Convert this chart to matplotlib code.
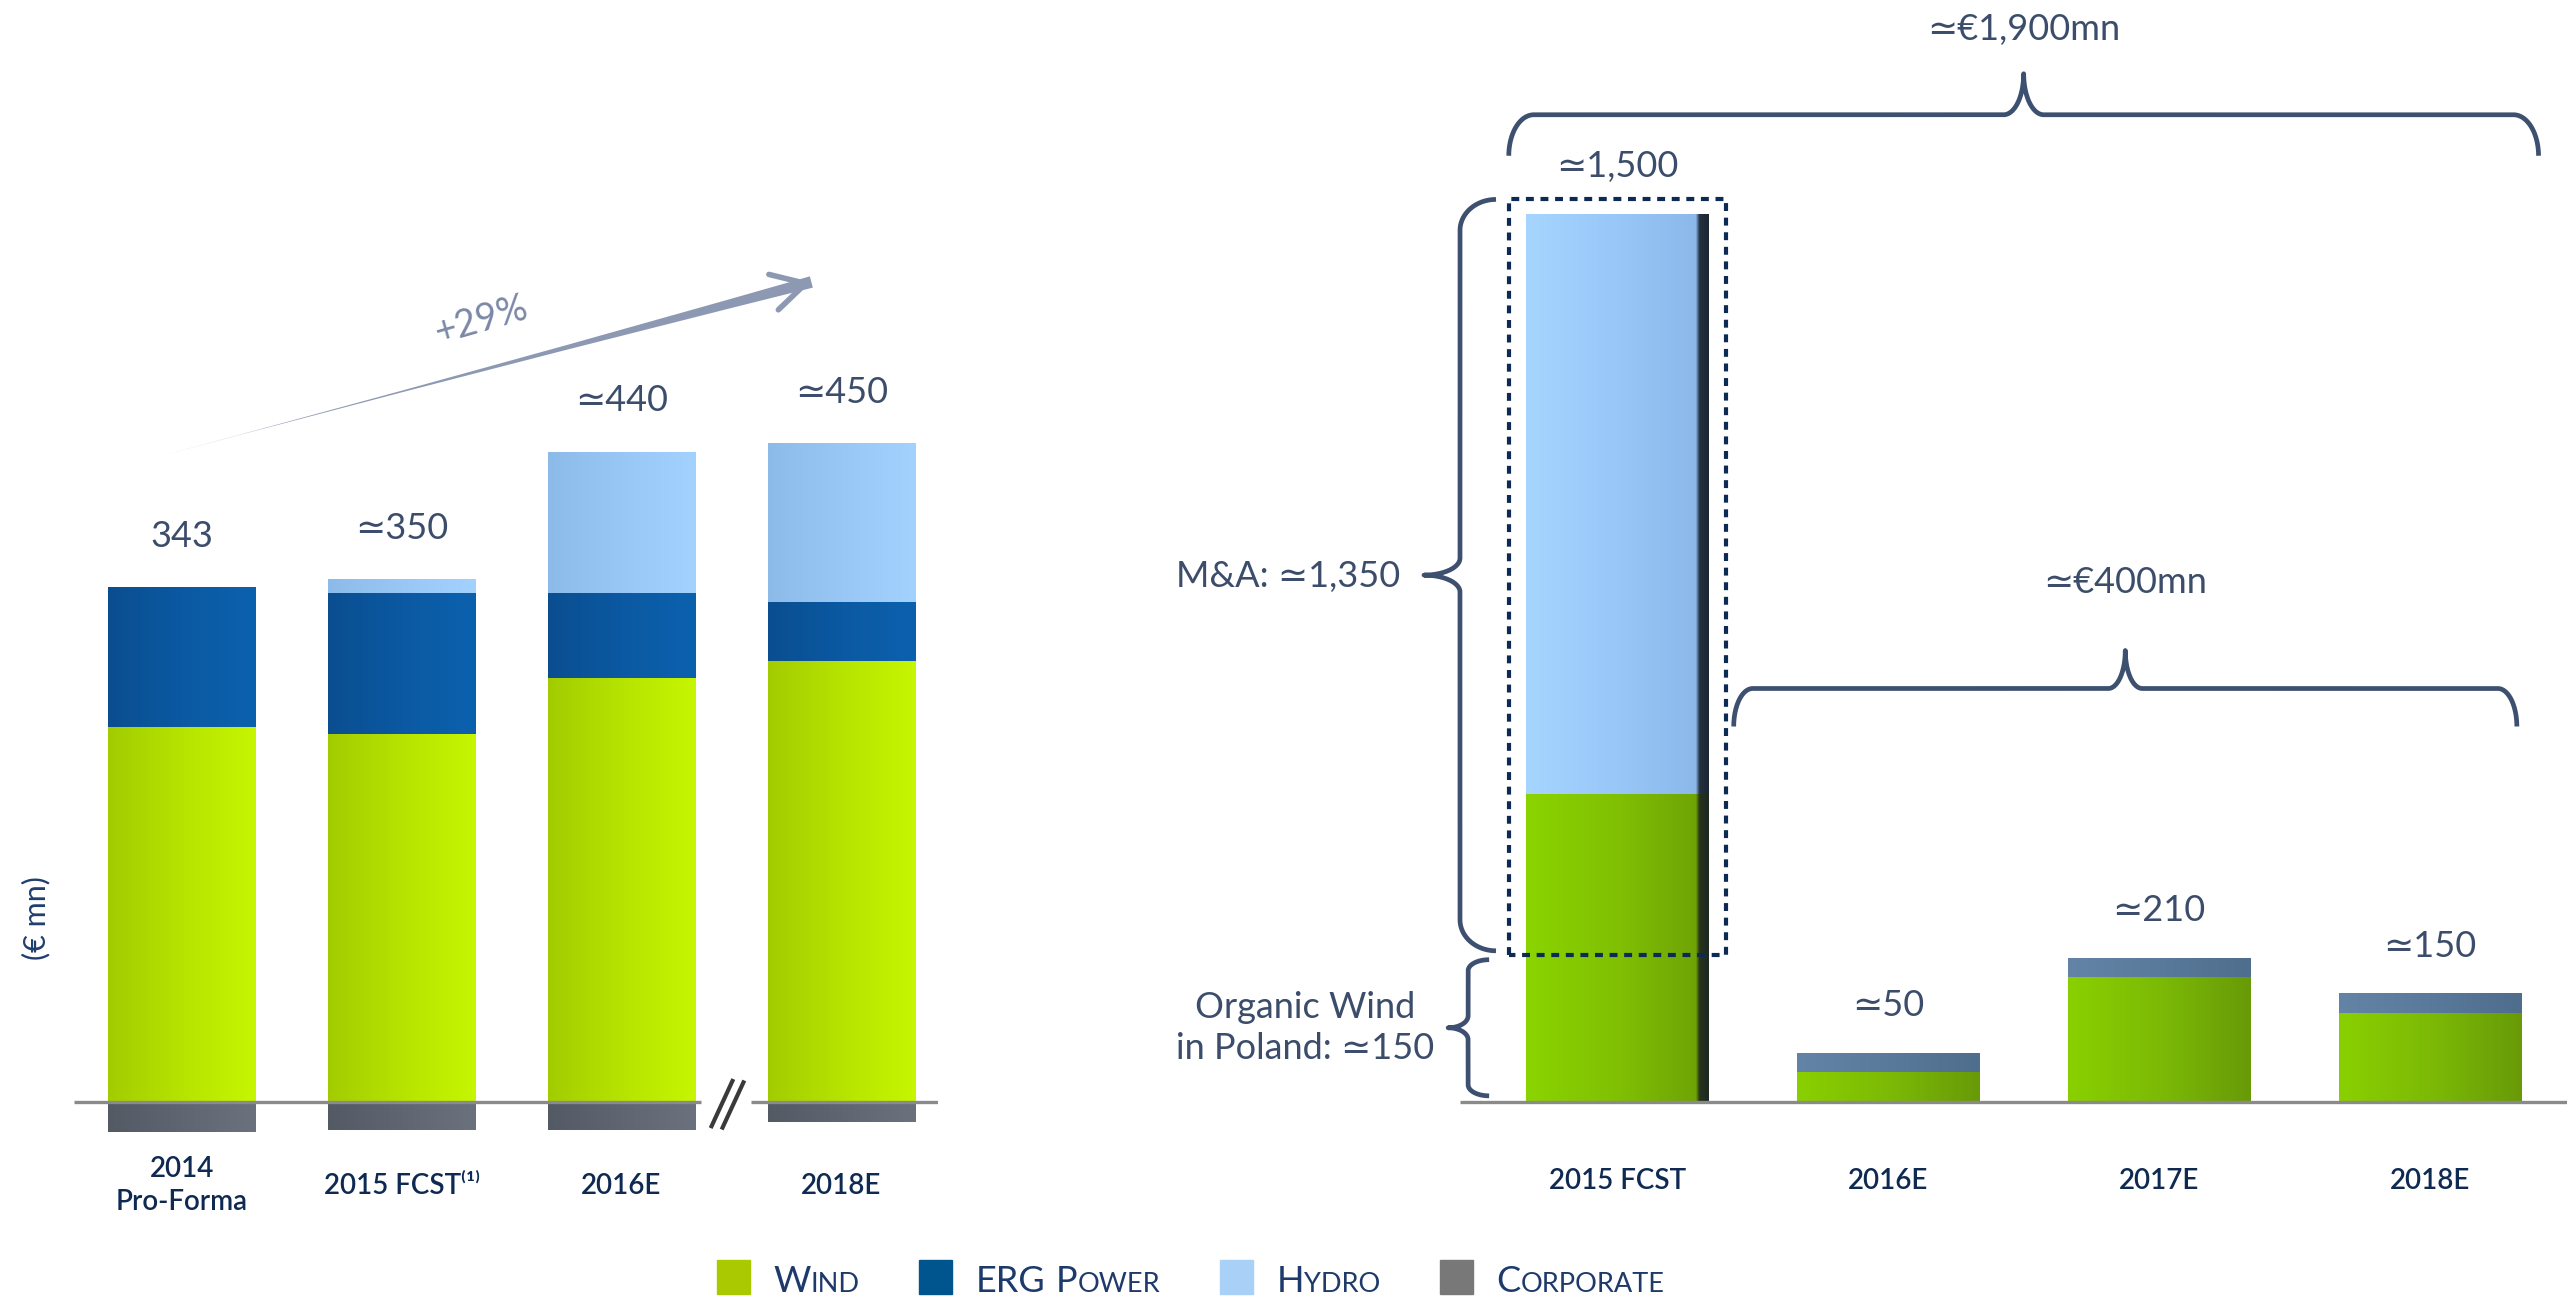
import matplotlib
matplotlib.use('Agg')
import matplotlib.pyplot as plt
import numpy as np
from matplotlib.patches import Rectangle
from matplotlib.colors import LinearSegmentedColormap

plt.rcParams['font.family'] = ['Lato', 'DejaVu Sans']

W, H, DPI = 2572, 1296, 100

# ---------------- data ----------------
left_categories = ['2014\nPro-Forma', '2015 FCST\u207d\u00b9\u207e', '2016E', '2018E']
left_wind = [265, 260, 300, 312]
left_erg = [99, 100, 60, 42]
left_hydro = [0, 10, 100, 112]
left_corporate = [-21, -20, -20, -14]
left_labels = ['343', '\u2243350', '\u2243440', '\u2243450']
growth_label = '+29%'

right_categories = ['2015 FCST', '2016E', '2017E', '2018E']
right_wind = [520, 50, 210, 150]
right_hydro = [980, 0, 0, 0]
right_labels = ['\u22431,500', '\u224350', '\u2243210', '\u2243150']
total_label = '\u2243\u20ac1,900mn'
organic_total_label = '\u2243\u20ac400mn'
ma_label = 'M&A: \u22431,350'
organic_label = 'Organic Wind\nin Poland: \u2243150'
unit_label = '(\u20ac mn)'

legend_labels = ['Wind', 'ERG Power', 'Hydro', 'Corporate']
legend_colors = ['#aac900', '#00558f', '#a9d1f7', '#787878']

# ---------------- style ----------------
NAVY = '#0f2a52'
SLATE = '#3c4d6b'
BRACE = '#3d5070'

fig = plt.figure(figsize=(W / DPI, H / DPI), dpi=DPI)
fig.patch.set_facecolor('white')

ax1 = fig.add_axes([74 / W, 1 - 1187 / H, 864 / W, 1004 / H])
ax2 = fig.add_axes([1460 / W, 1 - 1161 / H, 1107 / W, 1125 / H])
for ax in (ax1, ax2):
    ax.set_axis_off()


def shade(ax, bars, stops):
    cmap = LinearSegmentedColormap.from_list('g', stops)
    grad = np.linspace(0, 1, 256).reshape(1, -1)
    for b in bars:
        h = b.get_height()
        if h == 0:
            continue
        x0, y0, w = b.get_x(), b.get_y(), b.get_width()
        im = ax.imshow(grad, cmap=cmap, aspect='auto', interpolation='bilinear',
                       extent=(x0, x0 + w, min(y0, y0 + h), max(y0, y0 + h)),
                       zorder=b.get_zorder() + 0.1)
        im.set_clip_path(b)


# ---------------- left chart ----------------
lx = np.arange(len(left_categories))
bw = 0.67
wind = np.array(left_wind)
erg = np.array(left_erg)
hyd = np.array(left_hydro)
corp = np.array(left_corporate)

b_w = ax1.bar(lx, wind, bw, color='#b8e600', zorder=2)
b_e = ax1.bar(lx, erg, bw, bottom=wind, color='#0b5aa3', zorder=2)
b_h = ax1.bar(lx, hyd, bw, bottom=wind + erg, color='#99c8f7', zorder=2)
b_c = ax1.bar(lx, corp, bw, color='#5f6672', zorder=2)
shade(ax1, b_w, [(0, '#a2cc00'), (0.5, '#b6e400'), (1, '#c6f600')])
shade(ax1, b_e, [(0, '#0a4e90'), (0.5, '#0b59a2'), (1, '#0c61ae')])
shade(ax1, b_h, [(0, '#8dbbe9'), (0.5, '#98c7f6'), (1, '#a4d2ff')])
shade(ax1, b_c, [(0, '#535a64'), (0.5, '#5f6672'), (1, '#6b727d')])

tops = wind + erg + hyd
for xi, t, lab in zip(lx, tops, left_labels):
    ax1.text(xi, t + 36, lab, ha='center', va='center', fontsize=26, color=SLATE)

for xi, lab in zip(lx, left_categories):
    ax1.text(xi, -59, lab, ha='center', va='center', fontsize=20, color=NAVY,
             fontweight='semibold', linespacing=1.3)

# baseline with break
ax1.plot([-0.49, 2.36], [0, 0], color='#8a8a8a', lw=2.4, zorder=5, solid_capstyle='butt')
ax1.plot([2.59, 3.44], [0, 0], color='#8a8a8a', lw=2.4, zorder=5, solid_capstyle='butt')
ax1.plot([2.41, 2.505], [-17, 15], color='#3a3a3a', lw=3, zorder=5)
ax1.plot([2.46, 2.555], [-18, 14], color='#3a3a3a', lw=3, zorder=5)

ax1.set_xlim(-0.49, 3.44)
ax1.set_ylim(-60, 650)

# growth arrow
arrow_c = '#8d99b3'
a_start = (-0.095, 457)
a_end = (2.864, 580)
ax1.annotate('', xy=a_start, xytext=a_end,
             arrowprops=dict(arrowstyle='wedge,tail_width=0.6,shrink_factor=0.25',
                             color=arrow_c, lw=0, shrinkA=0, shrinkB=0, mutation_scale=14))
ax1.annotate('', xy=a_end, xytext=(a_end[0] - 0.3, a_end[1] - 12.5),
             arrowprops=dict(arrowstyle='->,head_length=1.0,head_width=0.55',
                             color=arrow_c, lw=4, shrinkA=0, shrinkB=0, mutation_scale=24))
ax1.text(1.36, 553, growth_label, rotation=16, ha='center', va='center',
         fontsize=27, color='#7b88a6', rotation_mode='anchor')

# ---------------- right chart ----------------
rx = np.arange(len(right_categories))
rw = np.array(right_wind)
rh = np.array(right_hydro)
cap_h = 33
caps = np.array([0, cap_h, cap_h, cap_h])
bw2 = 0.675

g = ax2.bar(rx, rw, bw2, color='#80c000', zorder=2)
hb = ax2.bar(rx, rh, bw2, bottom=rw, color='#98c8fa', zorder=2)
cb = ax2.bar(rx, caps, bw2, bottom=rw, color='#5b7b9c', zorder=2)
shade(ax2, g[:1], [(0, '#8bd400'), (0.5, '#80c004'), (0.93, '#6fa406'), (0.95, '#26321c'), (1, '#1e2a22')])
shade(ax2, g[1:], [(0, '#8ad000'), (0.5, '#7cba06'), (1, '#689a08')])
shade(ax2, hb, [(0, '#a6d5ff'), (0.5, '#98c7f8'), (0.93, '#8cb8ea'), (0.95, '#243040'), (1, '#1e2833')])
shade(ax2, cb, [(0, '#6384a6'), (0.5, '#5a7a9b'), (1, '#4f6d8c')])

rtops = rw + rh + caps
for xi, t, lab in zip(rx, rtops, right_labels):
    ax2.text(xi, t + 80, lab, ha='center', va='center', fontsize=26, color=SLATE)

for xi, lab in zip(rx, right_categories):
    ax2.text(xi, -133, lab, ha='center', va='center', fontsize=20, color=NAVY,
             fontweight='semibold')

ax2.plot([-0.58, 3.505], [0, 0], color='#8a8a8a', lw=2.4, zorder=5, solid_capstyle='butt')

ax2.set_xlim(-0.58, 3.505)
ax2.set_ylim(-100, 1800)

# dashed M&A box
ax2.plot([-0.40, -0.40, 0.40, 0.40, -0.40], [248, 1524, 1524, 248, 248],
         color='#0d2a55', lw=3, ls=(0, (1.9, 1.6)), zorder=6)


def brace(ax, p0, p1, e, a, t, b, **kw):
    T = ax.transData
    P0 = T.transform(p0)
    P1 = T.transform(p1)
    d = P1 - P0
    L = np.hypot(*d)
    u = d / L
    n = np.array([-u[1], u[0]])
    uc = L / 2
    th1 = np.linspace(np.pi, np.pi / 2, 40)
    seg1 = np.c_[a + a * np.cos(th1), -e + e * np.sin(th1)]
    th2 = np.linspace(-np.pi / 2, 0, 40)
    seg2 = np.c_[uc - b + b * np.cos(th2), t + t * np.sin(th2)]
    half = np.vstack([seg1, seg2])
    other = np.c_[L - half[::-1, 0], half[::-1, 1]]
    pts = np.vstack([half, other])
    disp = P0 + pts[:, :1] * u + pts[:, 1:2] * n
    data = T.inverted().transform(disp)
    ax.plot(data[:, 0], data[:, 1], clip_on=False, solid_capstyle='butt', **kw)


bk = dict(color=BRACE, lw=3.4, zorder=7)
brace(ax2, (-0.40, 1667), (3.40, 1667), e=41, a=25, t=41, b=20, **bk)
brace(ax2, (0.43, 698), (3.32, 698), e=38, a=19, t=38, b=17, **bk)
brace(ax2, (-0.58, 255), (-0.58, 1524), e=36, a=31, t=36, b=17, **bk)
brace(ax2, (-0.55, 10), (-0.55, 240), e=21, a=11, t=20, b=12, **bk)

ax2.text(1.5, 1811, total_label, ha='center', va='center', fontsize=26, color=SLATE, clip_on=False)
ax2.text(1.875, 877, organic_total_label, ha='center', va='center', fontsize=26, color=SLATE)
ax2.text(-0.80, 888, ma_label, ha='right', va='center', fontsize=26, color=SLATE)
ax2.text(-1.15, 125, organic_label, ha='center', va='center', fontsize=26, color=SLATE,
         linespacing=1.3, clip_on=False)

# unit label
fig.text(36 / W, 1 - 918 / H, unit_label, rotation=90, ha='center', va='center',
         fontsize=22, color='#1f3d6e', fontweight='normal')

# ---------------- legend (small caps) ----------------
renderer = fig.canvas.get_renderer()
x = 717
sq_top, sq_bot = 1260, 1294
base_y = 1 - 1292 / H
LEG_C = '#1d3a6b'


def put(txt, x, size):
    tt = fig.text(x / W, base_y, txt, fontsize=size, color=LEG_C, va='baseline',
                  ha='left', fontweight='normal')
    return tt.get_window_extent(renderer).width


for lab, col in zip(legend_labels, legend_colors):
    fig.add_artist(Rectangle((x / W, 1 - sq_bot / H), 33 / W, (sq_bot - sq_top) / H,
                             transform=fig.transFigure, color=col))
    x += 33 + 23
    words = lab.split(' ')
    for wi, word in enumerate(words):
        i = 0
        while i < len(word):
            j = i
            big = word[i].isupper()
            while j < len(word) and word[j].isupper() == big:
                j += 1
            x += put(word[i:j].upper(), x, 26 if big else 19.5)
            i = j
        if wi < len(words) - 1:
            x += 11
    x += 60

fig.savefig('out.png', dpi=DPI)
